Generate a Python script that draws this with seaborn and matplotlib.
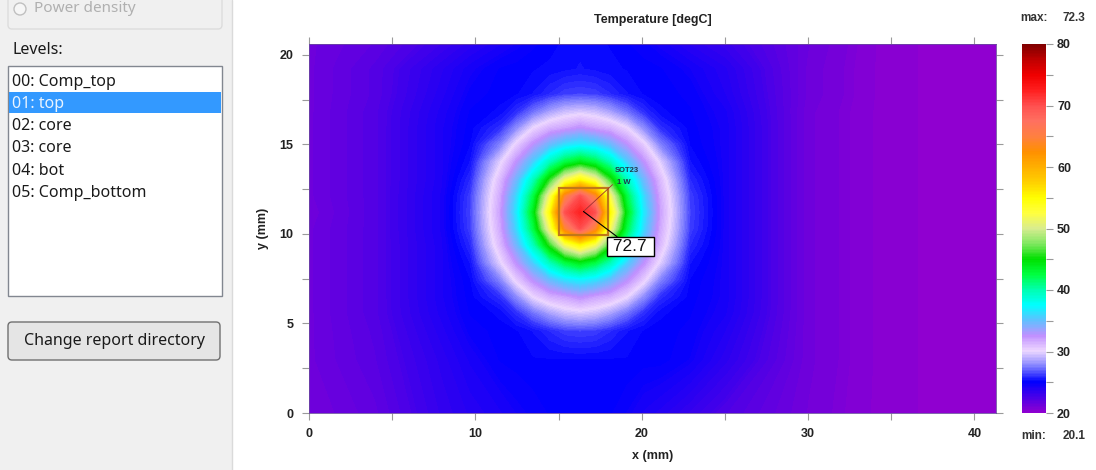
import numpy as np
import matplotlib
matplotlib.use("Agg")
import matplotlib.pyplot as plt
from matplotlib.patches import Rectangle, FancyBboxPatch, Circle
from matplotlib.ticker import MultipleLocator
from matplotlib.colors import Normalize
from matplotlib.cm import ScalarMappable
import seaborn as sns

sns.set_theme(style="white")
plt.rcParams['font.family'] = ['Liberation Sans', 'DejaVu Sans']

# sample positions of the temperature map (mm)
x_mm = [0, 4, 8, 9.7, 11.5, 12.5, 13.5, 14.5, 15.4, 16.3, 17.2, 18.1, 19.1, 20.1, 21.1, 22.9, 25, 30, 35, 41.3]
y_mm = [0, 3, 4.6, 5.6, 6.5, 7.4, 8.4, 9.4, 10.3, 11.2, 12.1, 13.0, 14.0, 15.0, 15.9, 16.8, 17.8, 19.2, 20.6]

# temperatures (degC), one row per y_mm value
t_y00_0 = [21.1, 21.8, 23.3, 23.8, 24.2, 24.5, 24.7, 24.9, 24.9, 24.9, 24.9, 24.9, 24.6, 24.2, 23.9, 23.2, 22.4, 21.1, 20.3, 20.1]
t_y03_0 = [21.3, 22.1, 23.6, 24.3, 24.9, 25.0, 25.1, 25.1, 25.1, 25.1, 25.1, 25.1, 25.1, 25.0, 25.0, 24.6, 23.6, 21.2, 20.3, 20.1]
t_y04_6 = [21.3, 22.2, 23.9, 24.7, 25.0, 25.1, 25.4, 25.9, 26.3, 26.4, 26.3, 25.9, 25.4, 25.1, 25.0, 24.8, 24.0, 21.2, 20.3, 20.1]
t_y05_6 = [21.3, 22.3, 24.1, 24.9, 25.2, 26.0, 27.3, 28.5, 29.3, 29.6, 29.3, 28.5, 27.3, 26.0, 25.2, 24.9, 24.3, 21.2, 20.3, 20.1]
t_y06_5 = [21.3, 22.3, 24.2, 25.0, 26.0, 27.9, 30.1, 31.4, 31.9, 32.6, 31.9, 31.4, 30.1, 27.9, 26.0, 25.0, 24.4, 21.2, 20.3, 20.1]
t_y07_4 = [21.3, 22.3, 24.2, 25.1, 27.6, 30.4, 32.6, 34.6, 36.1, 36.7, 36.1, 34.6, 32.6, 30.4, 27.6, 25.1, 24.4, 21.2, 20.3, 20.1]
t_y08_4 = [21.3, 22.3, 24.2, 25.4, 29.8, 32.6, 35.7, 39.7, 42.5, 44.0, 42.5, 39.7, 35.7, 32.6, 29.8, 25.4, 24.4, 21.2, 20.3, 20.1]
t_y09_4 = [21.3, 22.3, 24.2, 25.9, 31.1, 34.6, 39.7, 46.0, 51.9, 55.0, 51.9, 46.0, 39.7, 34.6, 31.1, 25.9, 24.4, 21.2, 20.3, 20.1]
t_y10_3 = [21.3, 22.3, 24.3, 26.3, 31.7, 36.1, 42.5, 51.9, 64.1, 70.0, 64.1, 51.9, 42.5, 36.1, 31.7, 26.3, 24.4, 21.2, 20.3, 20.1]
t_y11_2 = [21.2, 22.3, 24.3, 26.4, 32.0, 36.7, 44.0, 55.0, 70.0, 72.3, 70.0, 55.0, 44.0, 36.7, 32.0, 26.4, 24.4, 21.2, 20.3, 20.1]
t_y12_1 = [21.3, 22.3, 24.3, 26.3, 31.7, 36.1, 42.5, 51.9, 64.1, 70.0, 64.1, 51.9, 42.5, 36.1, 31.7, 26.3, 24.4, 21.2, 20.3, 20.1]
t_y13_0 = [21.3, 22.3, 24.2, 25.9, 31.1, 34.6, 39.7, 46.0, 51.9, 55.0, 51.9, 46.0, 39.7, 34.6, 31.1, 25.9, 24.4, 21.2, 20.3, 20.1]
t_y14_0 = [21.3, 22.3, 24.2, 25.4, 29.8, 32.6, 35.7, 39.7, 42.5, 44.0, 42.5, 39.7, 35.7, 32.6, 29.8, 25.4, 24.4, 21.2, 20.3, 20.1]
t_y15_0 = [21.3, 22.3, 24.2, 25.1, 27.6, 30.4, 32.6, 34.6, 36.1, 36.7, 36.1, 34.6, 32.6, 30.4, 27.6, 25.1, 24.4, 21.2, 20.3, 20.1]
t_y15_9 = [21.3, 22.3, 24.2, 25.0, 26.0, 27.9, 30.1, 31.4, 31.9, 32.6, 31.9, 31.4, 30.1, 27.9, 26.0, 25.0, 24.4, 21.2, 20.3, 20.1]
t_y16_8 = [21.3, 22.3, 24.1, 24.9, 25.2, 26.0, 27.3, 28.5, 29.3, 29.6, 29.3, 28.5, 27.3, 26.0, 25.2, 24.9, 24.3, 21.2, 20.3, 20.1]
t_y17_8 = [21.3, 22.2, 23.9, 24.7, 25.0, 25.1, 25.4, 25.9, 26.3, 26.4, 26.3, 25.9, 25.4, 25.1, 25.0, 24.8, 24.0, 21.3, 20.3, 20.1]
t_y19_2 = [21.3, 22.2, 23.7, 24.4, 24.9, 25.0, 25.1, 25.2, 25.3, 25.4, 25.3, 25.2, 25.1, 25.0, 24.9, 24.5, 23.8, 21.3, 20.3, 20.1]
t_y20_6 = [21.3, 21.9, 23.0, 23.6, 24.2, 24.5, 24.8, 25.0, 25.2, 25.3, 25.2, 25.1, 24.9, 24.7, 24.4, 23.7, 23.1, 21.4, 20.3, 20.1]

temps = np.array([t_y00_0, t_y03_0, t_y04_6, t_y05_6, t_y06_5, t_y07_4, t_y08_4, t_y09_4,
                  t_y10_3, t_y11_2, t_y12_1, t_y13_0, t_y14_0, t_y15_0, t_y15_9, t_y16_8,
                  t_y17_8, t_y19_2, t_y20_6])

t_min, t_max = 20.1, 72.3
cbar_ticks = [20, 30, 40, 50, 60, 70, 80]

# component
part_name = "SOT23"
part_power = "1 W"
part_temp = 72.7
part_x, part_y, part_w, part_h = 15.0, 9.95, 3.0, 2.6

# left panel
level_names = ["00: Comp_top", "01: top", "02: core", "03: core", "04: bot", "05: Comp_bottom"]
selected_level = 1

# 20 .. 80 degC in steps of 2.5
cmap_colors = ["#9000d0", "#4800e8", "#0000ff", "#8080ff", "#eed8ff", "#c090ff",
               "#60c0ff", "#00ffff", "#00ffb0", "#00ff40", "#00e000", "#80e860",
               "#d8ec90", "#ffff40", "#ffff00", "#ffd000", "#ffb000", "#ff9000",
               "#ff8040", "#ff7060", "#ff5050", "#ff2020", "#f00000", "#c00000", "#800000"]
cmap = sns.blend_palette(cmap_colors, as_cmap=True)

fig = plt.figure(figsize=(10.96, 4.70), dpi=100)
fig.patch.set_facecolor("white")

# GUI side panel drawn in pixel coordinates
ui = fig.add_axes([0, 0, 1, 1], zorder=0)
ui.set_xlim(0, 1096)
ui.set_ylim(470, 0)
ui.axis("off")
gui_font = ["Noto Sans", "DejaVu Sans"]
ui.add_patch(Rectangle((0, 0), 232, 470, fc="#f0f0f0", ec="none"))
ui.plot([232, 232], [0, 470], color="#dadada", lw=1)
ui.add_patch(FancyBboxPatch((8, -20), 214, 49, boxstyle="round,pad=0,rounding_size=4",
                            fc="none", ec="#dcdcdc", lw=1))
ui.add_patch(Circle((20, 9), 6, fc="#f6f6f6", ec="#c0c0c0", lw=1))
ui.text(34, 9, "Power density", color="#b0b0b0", fontsize=11, va="center", family=gui_font)
ui.text(12, 50, "Levels:", color="#1a1a1a", fontsize=11.5, va="center", family=gui_font)
ui.add_patch(Rectangle((8, 66), 214, 230, fc="white", ec="#828790", lw=1))
ui.add_patch(Rectangle((9, 92), 212, 21, fc="#3399ff", ec="none"))
for i, name in enumerate(level_names):
    col = "#eaf4ff" if i == selected_level else "#1a1a1a"
    ui.text(12, 81.5 + i * 22.3, name, color=col, fontsize=11.5, va="center", family=gui_font)
ui.add_patch(FancyBboxPatch((8, 322), 212, 38, boxstyle="round,pad=0,rounding_size=4",
                            fc="#e5e5e5", ec="#707070", lw=1))
ui.text(114, 341, "Change report directory", color="#1a1a1a", fontsize=11.5,
        ha="center", va="center", family=gui_font)

# temperature map
ax = fig.add_axes([309 / 1096, 57 / 470, 687 / 1096, 369 / 470], zorder=1)
ax.contourf(x_mm, y_mm, temps, levels=np.linspace(20, 80, 481), cmap=cmap, vmin=20, vmax=80)
ax.set_xlim(0, 41.3)
ax.set_ylim(0, 20.6)
ax.xaxis.set_major_locator(MultipleLocator(10))
ax.xaxis.set_minor_locator(MultipleLocator(5))
ax.yaxis.set_major_locator(MultipleLocator(5))
ax.yaxis.set_minor_locator(MultipleLocator(2.5))
ax.tick_params(which="both", direction="out", length=5, width=0.8, color="#9a9a9a",
               top=True, right=True, bottom=True, left=True)
ax.tick_params(labelsize=9, labelcolor="#222222", pad=6)
for lab in ax.get_xticklabels() + ax.get_yticklabels():
    lab.set_fontweight("bold")
for sp in ax.spines.values():
    sp.set_linewidth(0.6)
    sp.set_color("#6a4aa0")
ax.set_xlabel("x (mm)", fontsize=9, fontweight="bold", color="#222222", labelpad=7)
ax.set_ylabel("y (mm)", fontsize=9, fontweight="bold", color="#222222", labelpad=8)
ax.set_title("Temperature [degC]", fontsize=9, fontweight="bold", color="#222222", pad=15)

# component outline and labels
cx, cy = part_x + part_w / 2, part_y + part_h / 2
ax.add_patch(Rectangle((part_x, part_y), part_w, part_h, fc="none", ec="#c07818", lw=1.6))
ax.plot([cx, 18.25], [cy, 12.75], color="#a03030", lw=0.6)
ax.text(19.1, 13.55, part_name, fontsize=5.5, fontweight="bold", color="#203848", ha="center", va="center")
ax.text(18.95, 12.85, part_power, fontsize=5.5, fontweight="bold", color="#203848", ha="center", va="center")
ax.annotate(f" {part_temp:.1f} ", xy=(cx, cy), xytext=(19.3, 9.3), fontsize=12.5, color="#111111",
            ha="center", va="center",
            bbox=dict(boxstyle="square,pad=0.1", fc="white", ec="black", lw=1),
            arrowprops=dict(arrowstyle="-", color="black", lw=0.8, shrinkA=0, shrinkB=0))

# colour bar
cax = fig.add_axes([1022 / 1096, 57 / 470, 24 / 1096, 369 / 470], zorder=1)
cb = fig.colorbar(ScalarMappable(norm=Normalize(20, 80), cmap=cmap), cax=cax, ticks=cbar_ticks)
cb.outline.set_linewidth(0)
cax.yaxis.set_minor_locator(MultipleLocator(5))
cax.tick_params(which="both", direction="out", length=5, width=0.8, color="#9a9a9a")
cax.tick_params(labelsize=9, labelcolor="#222222", pad=3)
for lab in cax.get_yticklabels():
    lab.set_fontweight("bold")

ui.text(1034, 18, "max:", fontsize=8.5, fontweight="bold", color="#333333", ha="center", va="center")
ui.text(1074, 18, f"{t_max:.1f}", fontsize=8.5, fontweight="bold", color="#333333", ha="center", va="center")
ui.text(1034, 436, "min:", fontsize=8.5, fontweight="bold", color="#333333", ha="center", va="center")
ui.text(1074, 436, f"{t_min:.1f}", fontsize=8.5, fontweight="bold", color="#333333", ha="center", va="center")

fig.savefig("out.png", dpi=100)
